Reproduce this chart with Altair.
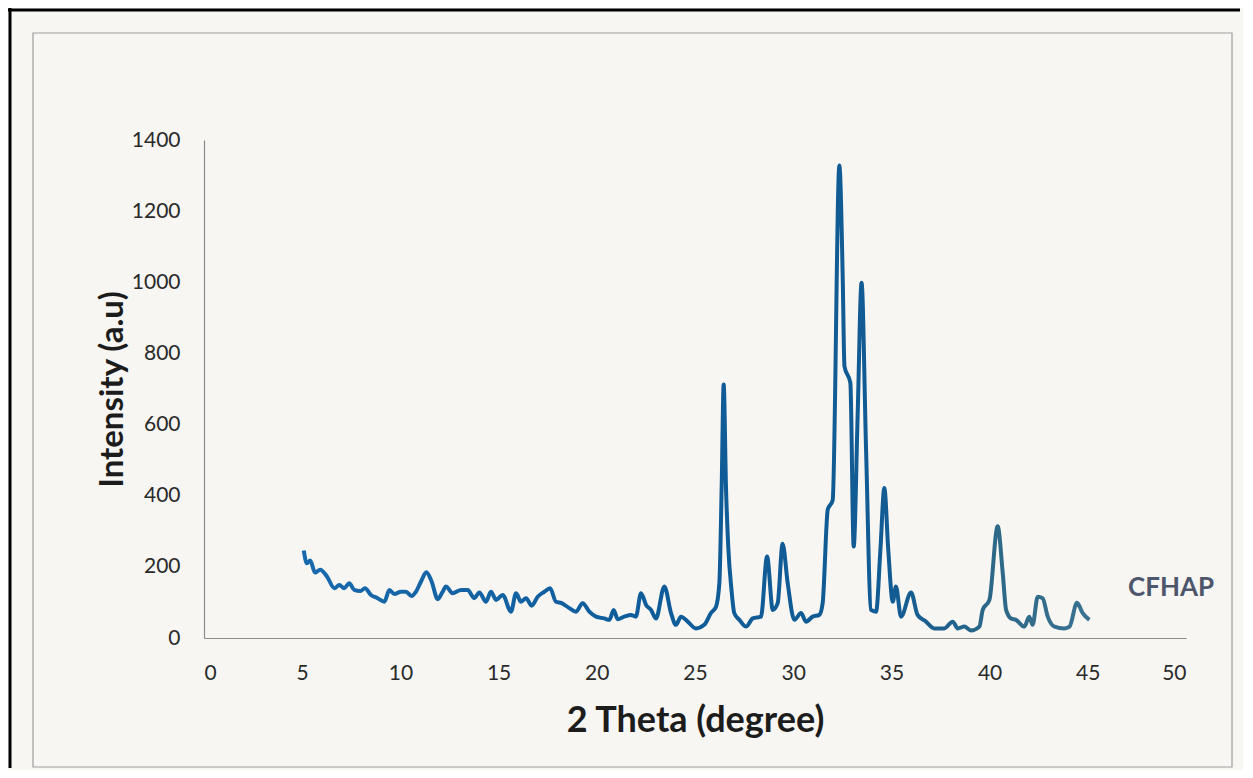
import altair as alt
import pandas as pd

# ---- data ----
two_theta = [5.08, 5.24, 5.41, 5.65, 5.92, 6.26, 6.64, 6.89, 7.14, 7.4, 7.65, 7.96, 8.2, 8.5, 8.84,
             9.18, 9.44, 9.69, 10.03, 10.28, 10.57, 10.79, 11.05, 11.32, 11.59, 11.9, 12.15, 12.32,
             12.66, 13.09, 13.43, 13.76, 14.02, 14.36, 14.61, 14.87, 15.21, 15.63, 15.89, 16.14,
             16.4, 16.68, 16.99, 17.33, 17.62, 17.92, 18.21, 18.6, 18.94, 19.28, 19.62, 19.96,
             20.38, 20.64, 20.86, 21.06, 21.4, 21.74, 21.99, 22.25, 22.51, 22.76, 23.01, 23.44,
             23.78, 24.03, 24.29, 24.63, 25.05, 25.47, 25.81, 26.07, 26.24, 26.36, 26.46, 26.58,
             26.7, 26.85, 27.0, 27.26, 27.6, 27.94, 28.36, 28.67, 28.96, 29.21, 29.46, 29.72,
             30.06, 30.4, 30.65, 30.99, 31.33, 31.5, 31.76, 32.01, 32.35, 32.52, 32.61, 32.91,
             33.08, 33.28, 33.48, 33.71, 33.96, 34.22, 34.44, 34.64, 34.84, 35.07, 35.23, 35.49,
             36.0, 36.33, 36.76, 37.18, 37.69, 38.12, 38.38, 38.71, 39.05, 39.48, 39.65, 39.99,
             40.41, 40.67, 40.84, 41.09, 41.34, 41.77, 42.02, 42.19, 42.45, 42.7, 42.96, 43.3,
             43.81, 44.07, 44.45, 44.74, 45.08]
intensity = [246, 210, 218, 184, 192, 173, 140, 149, 140, 154, 135, 132, 140, 121, 112,
             102, 135, 124, 130, 130, 118, 130, 159, 185, 159, 109, 130, 145,
             126, 135, 135, 112, 128, 102, 130, 107, 121, 74, 126, 102,
             112, 91, 116, 130, 140, 102, 98, 84, 74, 98, 74, 60,
             55, 51, 79, 53, 60, 65, 60, 126, 93, 79, 55, 145,
             70, 37, 60, 46, 27, 37, 70, 88, 154, 430, 713, 420,
             250, 140, 70, 51, 32, 55, 60, 229, 79, 98, 265, 154,
             51, 70, 46, 60, 65, 98, 361, 387, 1328, 1018, 764, 717,
             257, 623, 999, 530, 79, 74, 248, 422, 248, 102, 145, 60,
             128, 65, 46, 27, 27, 46, 27, 32, 21, 32, 79, 107,
             314, 182, 79, 55, 51, 32, 60, 37, 116, 112, 60, 32,
             27, 32, 99, 70, 51]

series_label = ["CFHAP"]
series_label_x = [49.24]
series_label_y = [141]

x_ticks = list(range(0, 51, 5))
y_ticks = list(range(0, 1401, 200))

FONT = "Lato"

df = pd.DataFrame({"two_theta": two_theta, "intensity": intensity})
lab = pd.DataFrame({"two_theta": series_label_x, "intensity": series_label_y, "text": series_label})
deco = alt.Data(values=[{"k": 1}])

x_scale = alt.Scale(domain=[0, 50], nice=False, zero=False)
y_scale = alt.Scale(domain=[0, 1400], nice=False)

x_axis = alt.Axis(values=x_ticks, format="d", title="2 Theta (degree)", grid=False, ticks=False,
                  tickSize=0, labelPadding=24, labelFont=FONT, labelFontSize=21, labelColor="#2a2a2a",
                  domainColor="#8c8c8c", domainWidth=1.2,
                  titleFont=FONT, titleFontSize=36, titleFontWeight="bold", titleColor="#1c1c1c",
                  titleY=82, titleBaseline="middle")
y_axis = alt.Axis(values=y_ticks, format="d", title="Intensity (a.u)", grid=False, ticks=False,
                  tickSize=0, labelPadding=24, labelFont=FONT, labelFontSize=21, labelColor="#2a2a2a",
                  domainColor="#8c8c8c", domainWidth=1.2,
                  titleFont=FONT, titleFontSize=33, titleFontWeight="bold", titleColor="#1c1c1c",
                  titleX=-92, titleBaseline="middle")

grad = alt.LinearGradient(
    gradient="linear",
    stops=[alt.GradientStop(color="#1869ad", offset=0),
           alt.GradientStop(color="#0f5c99", offset=0.45),
           alt.GradientStop(color="#125b93", offset=0.75),
           alt.GradientStop(color="#2d6888", offset=0.88),
           alt.GradientStop(color="#3a7290", offset=1)],
    x1=0, x2=1, y1=0, y2=0)

line = alt.Chart(df).mark_line(color=grad, strokeWidth=4, interpolate="monotone").encode(
    x=alt.X("two_theta:Q", scale=x_scale, axis=x_axis),
    y=alt.Y("intensity:Q", scale=y_scale, axis=y_axis),
)

label = alt.Chart(lab).mark_text(font=FONT, fontSize=26, fontWeight="bold", color="#4d566b",
                                 align="center", baseline="middle").encode(
    x=alt.X("two_theta:Q", scale=x_scale),
    y=alt.Y("intensity:Q", scale=y_scale),
    text="text:N",
)

frame = alt.Chart(deco).mark_rect(fillOpacity=0, stroke="#9d9d9d", strokeWidth=1.2).encode(
    x=alt.value(-171), x2=alt.value(1028), y=alt.value(-107), y2=alt.value(627)
)
top_bar = alt.Chart(deco).mark_rule(color="#000000", strokeWidth=3).encode(
    x=alt.value(-196), x2=alt.value(1036), y=alt.value(-130)
)
left_bar = alt.Chart(deco).mark_rule(color="#000000", strokeWidth=3).encode(
    x=alt.value(-194), y=alt.value(-132), y2=alt.value(628)
)

chart = alt.layer(frame, top_bar, left_bar, line, label).properties(
    width=982, height=498,
    autosize=alt.AutoSizeParams(type="none"),
    padding={"left": 196, "top": 132, "right": 57, "bottom": 132},
    background="#f7f6f3",
).configure_view(stroke=None)

chart.save("out.html", embed_options={"renderer": "svg", "actions": False})
